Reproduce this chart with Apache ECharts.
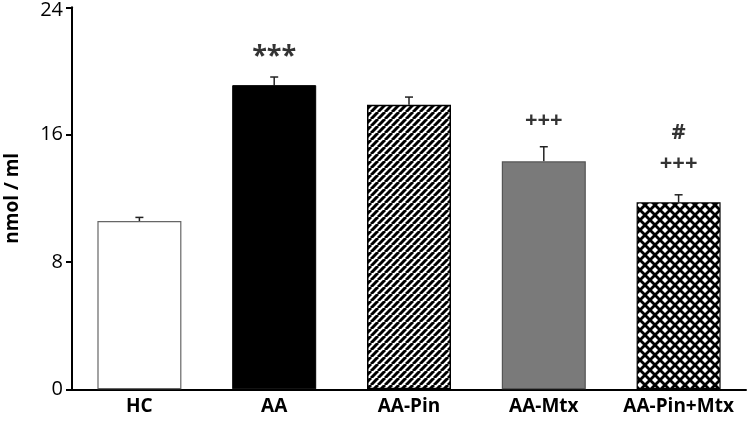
<!DOCTYPE html>
<html><head><meta charset="utf-8">
<script src="https://cdn.jsdelivr.net/npm/echarts@6/dist/echarts.min.js"></script>
<style>html,body{margin:0;padding:0;background:#fff}#c{width:747px;height:432px}</style>
</head><body><div id="c"></div>
<script>
const categories = ['HC', 'AA', 'AA-Pin', 'AA-Mtx', 'AA-Pin+Mtx'];
const means = [10.57, 19.11, 17.88, 14.32, 11.75];
const errors = [0.23, 0.51, 0.48, 0.92, 0.47];
const yTicks = [0, 8, 16, 24];
const annCats = ['AA', 'AA-Mtx', 'AA-Pin+Mtx', 'AA-Pin+Mtx'];
const annValues = [20.95, 16.9, 16.1, 14.2];
const annTexts = ['***', '+++', '#', '+++'];

function stripes() {
  const s = 7, c = document.createElement('canvas');
  c.width = s; c.height = s;
  const g = c.getContext('2d');
  g.fillStyle = '#fff'; g.fillRect(0, 0, s, s);
  g.strokeStyle = '#000'; g.lineWidth = 3;
  for (const o of [-s, 0, s]) { g.beginPath(); g.moveTo(o, s); g.lineTo(o + s, 0); g.stroke(); }
  return c;
}
function hatch() {
  const s = 10, c = document.createElement('canvas');
  c.width = s; c.height = s;
  const g = c.getContext('2d');
  g.fillStyle = '#fff'; g.fillRect(0, 0, s, s);
  g.strokeStyle = '#000'; g.lineWidth = 2.8;
  for (const o of [-s, 0, s]) {
    g.beginPath(); g.moveTo(o, s); g.lineTo(o + s, 0); g.stroke();
    g.beginPath(); g.moveTo(o, 0); g.lineTo(o + s, s); g.stroke();
  }
  return c;
}
const styles = [
  { color: '#fff', borderColor: '#666', borderWidth: 1.2 },
  { color: '#000', borderColor: '#000', borderWidth: 1 },
  { color: { image: stripes(), repeat: 'repeat' }, borderColor: '#000', borderWidth: 1.5 },
  { color: '#7a7a7a', borderColor: '#555', borderWidth: 1.2 },
  { color: { image: hatch(), repeat: 'repeat' }, borderColor: '#000', borderWidth: 1.2 }
];
const font = '"Open Sans", "Noto Sans", sans-serif';
const yMax = yTicks[yTicks.length - 1];
const chart = echarts.init(document.getElementById('c'), null, { renderer: 'canvas' });
chart.setOption({
  animation: false,
  grid: { left: 72, right: 1, top: 7.3, bottom: 42.7, containLabel: false, outerBoundsMode: 'none' },
  xAxis: {
    type: 'category', data: categories,
    axisLine: { lineStyle: { color: '#000', width: 2 } },
    axisTick: { show: false },
    axisLabel: { interval: 0, hideOverlap: false, fontFamily: font, fontWeight: 'bold', fontSize: 19, color: '#000', margin: 8 }
  },
  yAxis: {
    type: 'value', min: yTicks[0], max: yMax, interval: 8,
    name: 'nmol / ml', nameLocation: 'middle', nameGap: 50,
    nameTextStyle: { fontFamily: font, fontWeight: 'bold', fontSize: 19, color: '#000' },
    axisLine: { show: true, lineStyle: { color: '#000', width: 2 } },
    axisTick: { show: true, length: 6, lineStyle: { color: '#000', width: 2 } },
    splitLine: { show: false },
    axisLabel: {
      fontFamily: font, fontSize: 20, color: '#000', margin: 9,
      formatter: v => v === yMax ? '{top|' + v + '}' : String(v),
      rich: { top: { fontFamily: font, fontSize: 20, color: '#000', padding: [6, 0, 0, 0] } }
    }
  },
  series: [
    {
      type: 'bar', barWidth: 84,
      data: means.map((v, i) => ({ value: v, itemStyle: styles[i] })),
      z: 2
    },
    {
      type: 'custom', z: 1,
      data: means.map((v, i) => [i, v, v + errors[i]]),
      renderItem: function (params, api) {
        const x = api.value(0);
        const p0 = api.coord([x, api.value(1)]);
        const p1 = api.coord([x, api.value(2)]);
        const hw = 4;
        const st = { stroke: '#222', lineWidth: 1.5 };
        return { type: 'group', children: [
          { type: 'line', shape: { x1: p0[0], y1: p0[1], x2: p1[0], y2: p1[1] }, style: st },
          { type: 'line', shape: { x1: p1[0] - hw, y1: p1[1], x2: p1[0] + hw, y2: p1[1] }, style: st }
        ] };
      }
    },
    {
      type: 'scatter', symbolSize: 0,
      data: annCats.map((c, i) => ({
        value: [c, annValues[i]], name: annTexts[i],
        label: annTexts[i] === '***' ? { fontSize: 27 } : {}
      })),
      label: {
        show: true, position: 'inside', formatter: p => p.name,
        fontFamily: font, fontWeight: 'bold', fontSize: 22, color: '#000'
      }
    }
  ]
});
</script></body></html>
